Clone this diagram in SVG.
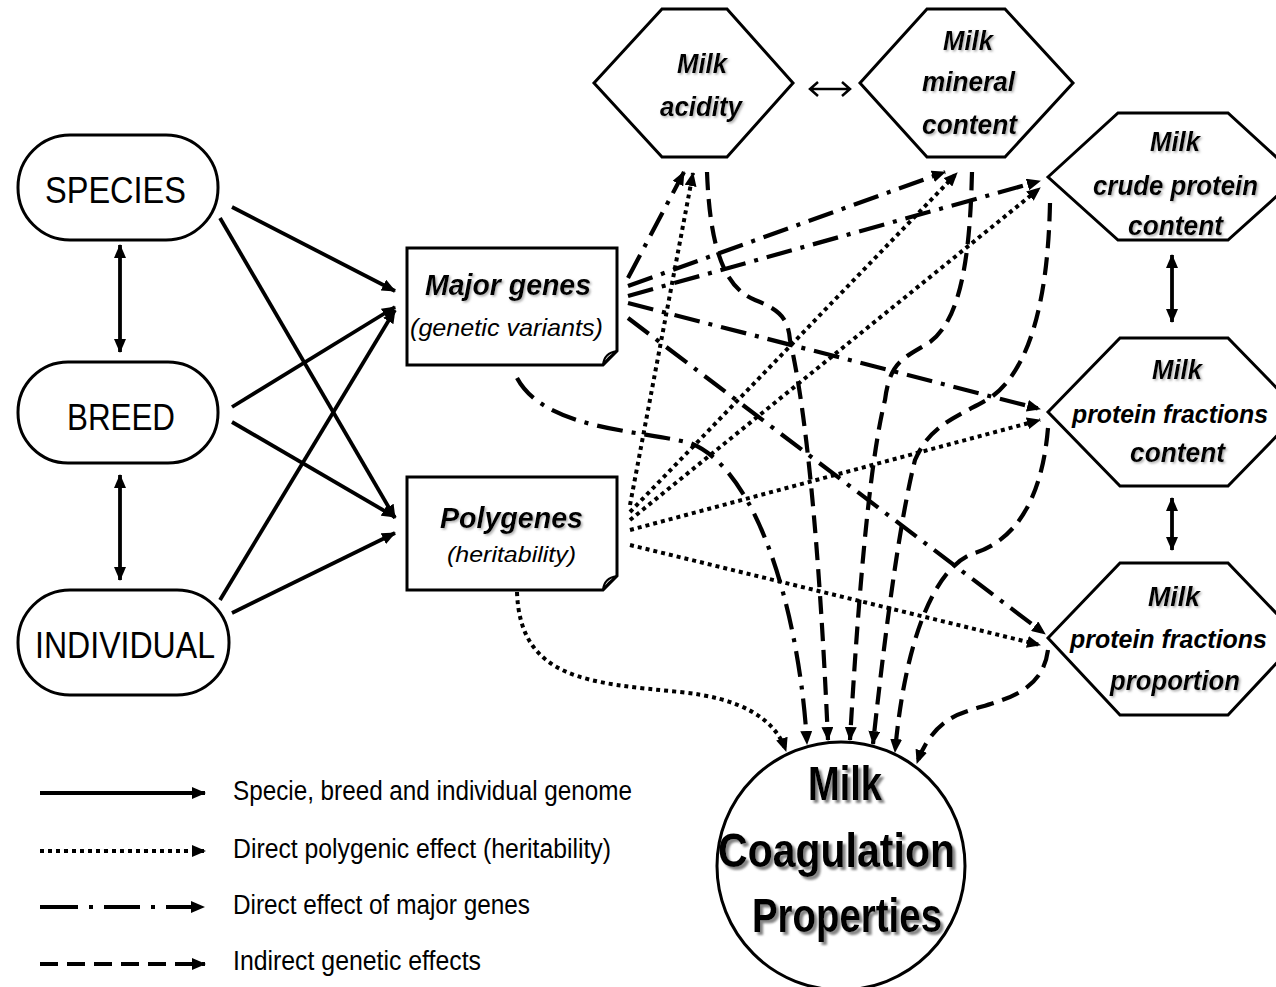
<svg xmlns="http://www.w3.org/2000/svg" width="1276" height="987" viewBox="0 0 1276 987">
<defs>
<marker id="ah" viewBox="0 0 14 12" refX="13" refY="6" markerWidth="14" markerHeight="12" markerUnits="userSpaceOnUse" orient="auto-start-reverse"><path d="M0,0 L14,6 L0,12 Z" fill="#000"/></marker>
<filter id="shd" x="-10%" y="-20%" width="130%" height="150%"><feDropShadow dx="3" dy="3" stdDeviation="1.2" flood-color="#777" flood-opacity="0.9"/></filter>
<filter id="shs" x="-10%" y="-20%" width="130%" height="150%"><feDropShadow dx="1.5" dy="1.5" stdDeviation="0.8" flood-color="#888" flood-opacity="0.7"/></filter>
<style>
.ln{fill:none;stroke:#000;stroke-width:3.8;marker-end:url(#ah)}
.dbl{marker-start:url(#ah)}
.dt{stroke-dasharray:4 4;stroke-width:4}
.dd{stroke-dasharray:26 9 4 9;stroke-width:4.2}
.ds{stroke-dasharray:18 9;stroke-width:4.2}
.nd{fill:#fff;stroke:#000;stroke-width:3}
.t{font-family:"Liberation Sans",Arial,sans-serif;fill:#000}
.b2{font-weight:bold;font-style:italic}
.bi{font-weight:bold;font-style:italic;filter:url(#shs)}
.it{font-style:italic}
.big{font-weight:bold;filter:url(#shd)}
</style>
</defs>
<rect width="1276" height="987" fill="#fff"/>

<g id="species">
<rect class="nd" x="18" y="135" width="200" height="105" rx="52"/>
<text class="t" x="45" y="203" font-size="36" textLength="141" lengthAdjust="spacingAndGlyphs">SPECIES</text>
</g>
<g id="breed">
<rect class="nd" x="18" y="362" width="200" height="101" rx="50"/>
<text class="t" x="67" y="430" font-size="36" textLength="108" lengthAdjust="spacingAndGlyphs">BREED</text>
</g>
<g id="individual">
<rect class="nd" x="18" y="590" width="211" height="105" rx="52"/>
<text class="t" x="35" y="658" font-size="36" textLength="180" lengthAdjust="spacingAndGlyphs">INDIVIDUAL</text>
</g>

<g id="major-genes">
<path class="nd" d="M407,248 H617 V351 L603,365 H407 Z"/>
<path d="M603,365 Q604,353 617,351 Q608,357 603,365 Z" fill="#fff" stroke="#000" stroke-width="2"/>
<text class="t bi" x="425" y="295" font-size="30" textLength="166" lengthAdjust="spacingAndGlyphs">Major genes</text>
<text class="t it" x="410" y="336" font-size="24" textLength="193" lengthAdjust="spacingAndGlyphs">(genetic variants)</text>
</g>
<g id="polygenes">
<path class="nd" d="M407,477 H617 V576 L603,590 H407 Z"/>
<path d="M603,590 Q604,578 617,576 Q608,582 603,590 Z" fill="#fff" stroke="#000" stroke-width="2"/>
<text class="t bi" x="440" y="528" font-size="30" textLength="143" lengthAdjust="spacingAndGlyphs">Polygenes</text>
<text class="t it" x="447" y="562" font-size="22" textLength="129" lengthAdjust="spacingAndGlyphs">(heritability)</text>
</g>

<g id="milk-acidity">
<polygon class="nd" points="594,83 662,9 727,9 793,83 727,157 662,157"/>
<text class="t bi" x="677" y="73" font-size="28" textLength="50" lengthAdjust="spacingAndGlyphs">Milk</text>
<text class="t bi" x="660" y="116" font-size="28" textLength="82" lengthAdjust="spacingAndGlyphs">acidity</text>
</g>
<g id="milk-mineral">
<polygon class="nd" points="860,83 927,9 1005,9 1073,83 1005,157 927,157"/>
<text class="t bi" x="943" y="50" font-size="28" textLength="50" lengthAdjust="spacingAndGlyphs">Milk</text>
<text class="t bi" x="922" y="91" font-size="28" textLength="93" lengthAdjust="spacingAndGlyphs">mineral</text>
<text class="t bi" x="922" y="134" font-size="28" textLength="95" lengthAdjust="spacingAndGlyphs">content</text>
</g>
<g id="milk-crude-protein">
<polygon class="nd" points="1048,177 1118,113 1228,113 1298,177 1228,240 1118,240"/>
<text class="t bi" x="1150" y="151" font-size="28" textLength="50" lengthAdjust="spacingAndGlyphs">Milk</text>
<text class="t bi" x="1093" y="195" font-size="28" textLength="165" lengthAdjust="spacingAndGlyphs">crude protein</text>
<text class="t bi" x="1128" y="235" font-size="28" textLength="95" lengthAdjust="spacingAndGlyphs">content</text>
</g>
<g id="milk-protein-fractions-content">
<polygon class="nd" points="1048,412 1120,338 1228,338 1300,412 1228,486 1120,486"/>
<text class="t bi" x="1152" y="379" font-size="28" textLength="50" lengthAdjust="spacingAndGlyphs">Milk</text>
<text class="t b2" x="1072" y="423" font-size="25.5" textLength="196" lengthAdjust="spacingAndGlyphs">protein fractions</text>
<text class="t bi" x="1130" y="462" font-size="28" textLength="95" lengthAdjust="spacingAndGlyphs">content</text>
</g>
<g id="milk-protein-fractions-proportion">
<polygon class="nd" points="1048,638 1120,563 1228,563 1300,638 1228,715 1120,715"/>
<text class="t bi" x="1148" y="606" font-size="28" textLength="52" lengthAdjust="spacingAndGlyphs">Milk</text>
<text class="t b2" x="1070" y="648" font-size="25.5" textLength="197" lengthAdjust="spacingAndGlyphs">protein fractions</text>
<text class="t bi" x="1110" y="690" font-size="28" textLength="130" lengthAdjust="spacingAndGlyphs">proportion</text>
</g>

<g id="milk-coagulation-properties">
<circle class="nd" cx="841" cy="866" r="124" stroke-width="3.5"/>
<text class="t big" x="808" y="800" font-size="48" textLength="74" lengthAdjust="spacingAndGlyphs">Milk</text>
<text class="t big" x="718" y="867" font-size="48" textLength="237" lengthAdjust="spacingAndGlyphs">Coagulation</text>
<text class="t big" x="752" y="932" font-size="48" textLength="190" lengthAdjust="spacingAndGlyphs">Properties</text>
</g>

<g id="connectors">
<path class="ln" d="M232,207 L395,291"/>
<path class="ln" d="M220,218 L395,518"/>
<path class="ln" d="M232,407 L395,307"/>
<path class="ln" d="M232,422 L395,517"/>
<path class="ln" d="M220,600 L395,310"/>
<path class="ln" d="M232,613 L395,533"/>
<path class="ln dbl" d="M120,245 L120,352"/>
<path class="ln dbl" d="M120,475 L120,580"/>
<path class="ln dbl" d="M1172,255 L1172,322"/>
<path class="ln dbl" d="M1172,498 L1172,550"/>
<path d="M810,89 H850 M818,82 L810,89 L818,96 M842,82 L850,89 L842,96" fill="none" stroke="#000" stroke-width="2.5"/>
<path class="ln dd" d="M628,278 L684,172"/>
<path class="ln dd" d="M628,286 L945,172"/>
<path class="ln dd" d="M628,296 L1040,181"/>
<path class="ln dd" d="M628,303 L1040,409"/>
<path class="ln dd" d="M628,318 L1045,634"/>
<path class="ln dd" d="M517,378 C545,430 640,430 690,443 C760,470 800,620 807,744"/>
<path class="ln dt" d="M630,505 L693,173"/>
<path class="ln dt" d="M630,512 L957,173"/>
<path class="ln dt" d="M630,520 L1040,188"/>
<path class="ln dt" d="M630,530 L1040,420"/>
<path class="ln dt" d="M630,545 L1040,645"/>
<path class="ln dt" d="M517,592 C520,680 590,683 680,692 C740,698 775,718 786,751"/>
<path class="ln ds" d="M707,172 C710,250 725,288 755,300 C780,310 788,318 790,340 Q815,450 828,740"/>
<path class="ln ds" d="M972,172 C970,260 960,320 930,342 C905,358 890,360 885,400 Q865,480 850,740"/>
<path class="ln ds" d="M1050,203 C1048,300 1030,370 990,398 C955,418 930,425 915,460 Q895,540 873,744"/>
<path class="ln ds" d="M1048,428 C1042,500 1015,540 975,553 C935,565 905,640 895,752"/>
<path class="ln ds" d="M1048,650 C1042,695 1000,700 965,712 C940,720 925,740 917,763"/>
</g>

<g id="legend">
<path class="ln" d="M40,793 L205,793"/>
<path class="ln dt" d="M40,851 L205,851"/>
<path d="M40,907 L78,907 M89,907 L93,907 M104,907 L140,907 M151,907 L155,907 M166,907 L195,907" fill="none" stroke="#000" stroke-width="4.2"/>
<path d="M191,901 L205,907 L191,913 Z" fill="#000"/>
<path class="ln ds" d="M40,964 L205,964"/>
<text class="t" x="233" y="800" font-size="27" textLength="399" lengthAdjust="spacingAndGlyphs">Specie, breed and individual genome</text>
<text class="t" x="233" y="858" font-size="27" textLength="378" lengthAdjust="spacingAndGlyphs">Direct polygenic effect (heritability)</text>
<text class="t" x="233" y="914" font-size="27" textLength="297" lengthAdjust="spacingAndGlyphs">Direct effect of major genes</text>
<text class="t" x="233" y="970" font-size="27" textLength="248" lengthAdjust="spacingAndGlyphs">Indirect genetic effects</text>
</g>
</svg>
